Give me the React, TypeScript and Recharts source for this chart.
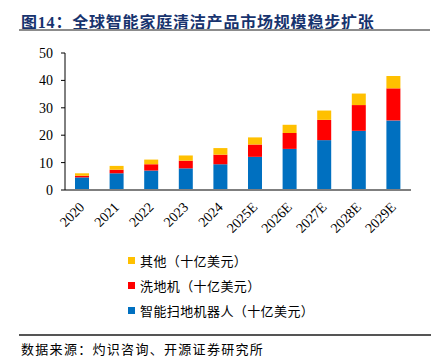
import { BarChart, Bar, XAxis, YAxis, Legend } from "recharts"

const years = ["2020", "2021", "2022", "2023", "2024", "2025E", "2026E", "2027E", "2028E", "2029E"]
const robot = [4.6, 6.1, 7.1, 7.9, 9.4, 12.1, 15.0, 18.2, 21.6, 25.4]
const scrubber = [0.6, 1.3, 2.3, 2.8, 3.5, 4.5, 5.8, 7.4, 9.4, 11.7]
const other = [0.9, 1.4, 1.7, 1.9, 2.4, 2.6, 3.0, 3.4, 4.2, 4.5]
const yTicks = [0, 10, 20, 30, 40, 50]
const boundaries = [1, 2, 3, 4, 5, 6, 7, 8, 9, 10]

const series = [
  { key: "robot", name: "智能扫地机器人（十亿美元）", color: "#0070C0" },
  { key: "scrubber", name: "洗地机（十亿美元）", color: "#FF0000" },
  { key: "other", name: "其他（十亿美元）", color: "#FFC000" },
]

const data = years.map((year, i) => ({
  year,
  robot: robot[i],
  scrubber: scrubber[i],
  other: other[i],
}))

const serif = "'Liberation Serif', 'Times New Roman', serif"
const cjk = "'Noto Sans CJK SC', sans-serif"

function YearTick(props: any) {
  const { x, y, payload } = props
  const px = x + 3
  const py = y + 18
  return (
    <text
      x={px}
      y={py}
      transform={`rotate(-45, ${px}, ${py})`}
      textAnchor="end"
      fontFamily={serif}
      fontSize={14}
      fill="#000"
    >
      {payload.value}
    </text>
  )
}

function BoundaryTick(props: any) {
  const { x, y } = props
  return <line x1={x} x2={x} y1={y} y2={y - 4} stroke="#444" strokeWidth={1} />
}

function LegendBox() {
  const items = [...series].reverse()
  return (
    <div>
      {items.map((item) => (
        <div
          key={item.key}
          style={{ display: "flex", alignItems: "center", height: 25, fontFamily: cjk, fontSize: 13, letterSpacing: 0.4, color: "#000" }}
        >
          <span style={{ display: "inline-block", width: 7, height: 7, background: item.color, marginRight: 5 }} />
          {item.name}
        </div>
      ))}
    </div>
  )
}

export default function App() {
  return (
    <div style={{ position: "absolute", left: 0, top: 0, width: 444, height: 359, background: "#fff" }}>
      <div
        style={{
          position: "absolute",
          left: 21,
          top: 9,
          fontFamily: `'Liberation Serif', ${cjk}`,
          fontWeight: "bold",
          fontSize: 16,
          letterSpacing: 0.8,
          color: "#17336E",
          whiteSpace: "nowrap",
        }}
      >
        图14：全球智能家庭清洁产品市场规模稳步扩张
      </div>
      <div style={{ position: "absolute", left: 19, top: 29, width: 411, height: 2, background: "#8c8c8c" }} />
      <div style={{ position: "absolute", left: 0, top: 0 }}>
        <BarChart width={444} height={330} data={data} margin={{ top: 53, right: 33, left: 0, bottom: 90 }}>
          <XAxis
            xAxisId="edge"
            type="number"
            domain={[0, 10]}
            ticks={boundaries}
            height={0}
            axisLine={false}
            tickLine={false}
            tickSize={0}
            tickMargin={0}
            tick={<BoundaryTick />}
            allowDataOverflow
          />
          <XAxis
            xAxisId="cat"
            dataKey="year"
            height={50}
            axisLine={{ stroke: "#7f7f7f", strokeWidth: 2 }}
            tickLine={false}
            tickSize={0}
            tickMargin={0}
            tick={<YearTick />}
            interval={0}
          />
          <YAxis
            domain={[0, 50]}
            ticks={yTicks}
            width={65}
            axisLine={{ stroke: "#000", strokeWidth: 1 }}
            tickLine={{ stroke: "#000" }}
            tickSize={4}
            tickMargin={8}
            tick={{ fontFamily: serif, fontSize: 14, fill: "#000" }}
          />
          {series.map((s) => (
            <Bar
              key={s.key}
              xAxisId="cat"
              dataKey={s.key}
              name={s.name}
              stackId="a"
              fill={s.color}
              barSize={14}
              isAnimationActive={false}
            />
          ))}
          <Legend
            layout="vertical"
            align="center"
            verticalAlign="middle"
            content={<LegendBox />}
            wrapperStyle={{ top: 248, left: 128, width: 300, bottom: "auto", right: "auto" }}
          />
        </BarChart>
      </div>
      <div style={{ position: "absolute", left: 19, top: 334, width: 412, height: 1.5, background: "#555" }} />
      <div
        style={{
          position: "absolute",
          left: 21,
          top: 339,
          fontFamily: cjk,
          fontSize: 13,
          letterSpacing: 1.3,
          color: "#000",
          whiteSpace: "nowrap",
        }}
      >
        数据来源：灼识咨询、开源证券研究所
      </div>
    </div>
  )
}
